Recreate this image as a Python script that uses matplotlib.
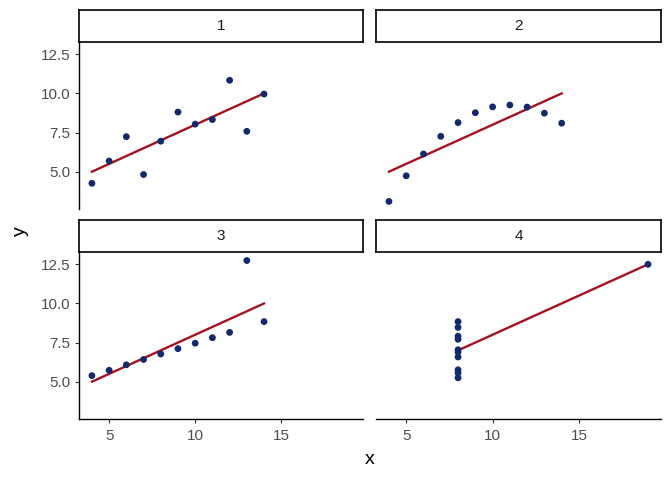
import numpy as np
import matplotlib
matplotlib.use("Agg")
import matplotlib.pyplot as plt

plt.rcParams["font.family"] = ["Liberation Sans", "DejaVu Sans"]

# Anscombe's quartet
x1 = [10, 8, 13, 9, 11, 14, 6, 4, 12, 7, 5]
y1 = [8.04, 6.95, 7.58, 8.81, 8.33, 9.96, 7.24, 4.26, 10.84, 4.82, 5.68]
y2 = [9.14, 8.14, 8.74, 8.77, 9.26, 8.10, 6.13, 3.10, 9.13, 7.26, 4.74]
y3 = [7.46, 6.77, 12.74, 7.11, 7.81, 8.84, 6.08, 5.39, 8.15, 6.42, 5.73]
x4 = [8, 8, 8, 8, 8, 8, 8, 19, 8, 8, 8]
y4 = [6.58, 5.76, 7.71, 8.84, 8.47, 7.04, 5.25, 12.50, 5.56, 7.91, 6.89]

sets = [("1", x1, y1), ("2", x1, y2), ("3", x1, y3), ("4", x4, y4)]
xticks = [5, 10, 15]
yticks = [5.0, 7.5, 10.0, 12.5]

POINT = "#112a6e"
LINE = "#a5121e"
TICKCOL = "#4d4d4d"

W, H = 672, 480
fig = plt.figure(figsize=(W / 100, H / 100), dpi=100)

# panel boxes in pixels: left, right, top, bottom
cols = [(79, 363), (376, 661)]
rows = [(43, 209), (253, 419)]
strip_h = 32

allx = np.concatenate([x1, x4])
ally = np.concatenate([y1, y2, y3, y4])
xr = allx.max() - allx.min()
yr = ally.max() - ally.min()
xlim = (allx.min() - 0.05 * xr, allx.max() + 0.05 * xr)
ylim = (ally.min() - 0.05 * yr, ally.max() + 0.05 * yr)

for i, (lab, x, y) in enumerate(sets):
    r, c = divmod(i, 2)
    l, rt = cols[c]
    t, b = rows[r]
    ax = fig.add_axes([l / W, 1 - b / H, (rt - l) / W, (b - t) / H])
    x = np.array(x, dtype=float)
    y = np.array(y, dtype=float)
    slope, icpt = np.polyfit(x, y, 1)
    xs = np.array([x.min(), x.max()])
    ax.plot(xs, icpt + slope * xs, color=LINE, lw=1.7, zorder=2)
    ax.scatter(x, y, s=24, color=POINT, edgecolors="none", zorder=3)
    ax.set_xlim(xlim)
    ax.set_ylim(ylim)
    for s in ["top", "right"]:
        ax.spines[s].set_visible(False)
    ax.spines["left"].set_visible(c == 0)
    ax.spines["bottom"].set_visible(r == 1)
    for s in ["left", "bottom"]:
        ax.spines[s].set_linewidth(1.0)
        ax.spines[s].set_color("black")
    ax.set_xticks(xticks)
    ax.set_yticks(yticks)
    ax.tick_params(axis="both", labelsize=11, labelcolor=TICKCOL, color="#333333",
                   length=3, width=0.8)
    ax.tick_params(axis="x", pad=4)
    ax.tick_params(axis="y", pad=3)
    if c != 0:
        ax.tick_params(axis="y", left=False, labelleft=False)
    if r != 1:
        ax.tick_params(axis="x", bottom=False, labelbottom=False)

    # facet strip
    sax = fig.add_axes([l / W, 1 - (t - 1) / H, (rt - l) / W, strip_h / H])
    sax.set_xticks([])
    sax.set_yticks([])
    for s in sax.spines.values():
        s.set_linewidth(1.2)
        s.set_color("black")
    sax.text(0.5, 0.5, lab, ha="center", va="center", fontsize=11, color="#1a1a1a",
             transform=sax.transAxes)

fig.text(370 / W, 1 - 459 / H, "x", ha="center", va="center", fontsize=14)
fig.text(20 / W, 1 - 231 / H, "y", ha="center", va="center", fontsize=14, rotation=90)

fig.savefig("out.png", dpi=100)
